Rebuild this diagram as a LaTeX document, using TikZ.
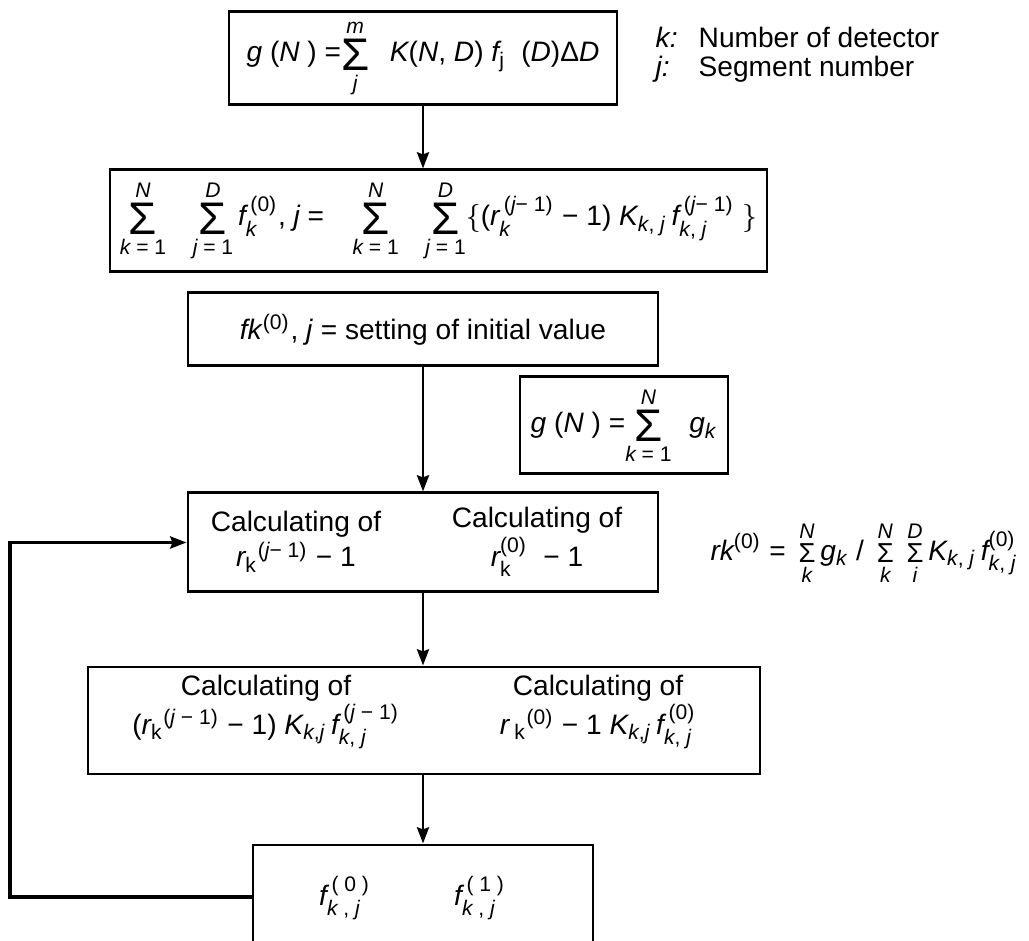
\documentclass[tikz,border=0pt]{standalone}
\usepackage{amsmath}
\usepackage{fontspec}
\setmainfont{Liberation Sans}
\usetikzlibrary{arrows.meta,positioning}
\newcommand{\mv}[1]{\mathit{#1}}
\newcommand{\up}[1]{\text{\upshape #1}}
\newcommand{\bigsum}{\mathop{\vcenter{\hbox{\fontsize{13}{13}\selectfont Σ}}}\limits}
\newcommand{\smallsum}{\mathop{\vcenter{\hbox{\fontsize{7.8}{7.8}\selectfont Σ}}}\limits}
\tikzset{
  flowbox/.style={draw,line width=0.85pt,inner sep=0pt,font=\fontsize{8}{9}\selectfont},
  coltext/.style={align=center,inner sep=0pt,font=\fontsize{8}{10}\selectfont},
  flowarrow/.style={-{Stealth[length=4.6pt,width=3.4pt,inset=0.6pt]},line width=0.85pt},
  looparrow/.style={flowarrow,line width=1.1pt}
}
\begin{document}
\begin{tikzpicture}[x=0.1mm,y=-0.1mm]
  \useasboundingbox (0,0) rectangle (1029,941);
  % measured model
  \node[flowbox,minimum width=38.8mm,minimum height=9.3mm] (topbox) at (423,58.5)
    {$\mv{g}\up{ (}\mv{N}\up{ ) =}\!\bigsum_{\mv{j}}^{\mv{m}}\ \ \mv{K}\up{(}\mv{N}\up{, }\mv{D}\up{)}\ \mv{f}_{\up{j}}\ \ \up{(}\mv{D}\up{)Δ}\mv{D}$};
  \node[coltext,align=left,anchor=west,font=\fontsize{8}{8.3}\selectfont] (legend) at (655,54.5)
    {\makebox[4.3mm][l]{\textit{k:}}Number of detector\\\makebox[4.3mm][l]{\textit{j:}}Segment number};

  \node[flowbox,minimum width=65.7mm,minimum height=10.2mm] (sumbox) at (438.5,221)
    {$\bigsum_{\mv{k}\up{ = 1}}^{\mv{N}}\;\;\,\bigsum_{\mv{j}\up{ = 1}}^{\mv{D}}\mv{f}_{\mv{k}}^{\,\up{(0)}}\up{, }\mv{j}\up{ = }\ \ \bigsum_{\mv{k}\up{ = 1}}^{\mv{N}}\;\;\,\bigsum_{\mv{j}\up{ = 1}}^{\mv{D}}\{\up{(}\mv{r}_{\mv{k}}^{\,\up{(}\mv{j}\up{− 1)}}\up{ − 1) }\mv{K}_{\mv{k}\up{, }\mv{j}}\,\mv{f}_{\mv{k}\up{, }\mv{j}}^{\,\up{(}\mv{j}\up{− 1)}}\ \}$};

  \node[flowbox,minimum width=47mm,minimum height=7.3mm] (initbox) at (423,329.5)
    {\textit{fk}\textsuperscript{(0)}, \textit{j} = setting of initial value};

  \node[flowbox,minimum width=20.8mm,minimum height=9.7mm] (gbox) at (624,425.5)
    {$\mv{g}\up{ (}\mv{N}\up{ ) =}\!\bigsum_{\mv{k}\up{ = 1}}^{\mv{N}}\ \,\mv{g}_{\mv{k}}$};

  % ratio step
  \node[flowbox,minimum width=47mm,minimum height=9.9mm] (ratiobox) at (423,542.5) {};
  \node[coltext] (ratioleft) at (296,542)
    {Calculating of\\$\mv{r}_{\up{k}}{}^{\up{(}\mv{j}\up{− 1)}}\up{ − 1}$};
  \node[coltext] (ratioright) at (537,542)
    {Calculating of\\$\mv{r}_{\up{k}}^{\up{(0)}}\ \ \up{− 1}$};
  \node[coltext] (ratioeq) at (864,553)
    {$\mv{rk}^{\up{(0)}}\up{ = }\smallsum_{\mv{k}}^{\mv{N}}\mv{g}_{\mv{k}}\up{ / }\smallsum_{\mv{k}}^{\mv{N}}\ \smallsum_{\mv{i}}^{\mv{D}}\mv{K}_{\mv{k}\up{, }\mv{j}}\,\mv{f}_{\mv{k}\up{, }\mv{j}}^{\up{(0)}}$};

  % correction step
  \node[flowbox,minimum width=67.2mm,minimum height=10.7mm] (prodbox) at (424,720.5) {};
  \node[coltext] (prodleft) at (266,712)
    {Calculating of\\$\up{(}\mv{r}_{\up{k}}{}^{\up{(}\mv{j}\up{ − 1)}}\up{ − 1) }\mv{K}_{\mv{k}\up{,}\mv{j}}\,\mv{f}_{\mv{k}\up{, }\mv{j}}^{\,\up{(}\mv{j}\up{ − 1)}}$};
  \node[coltext] (prodright) at (598,712)
    {Calculating of\\$\mv{r}\,_{\up{k}}{}^{\up{(0)}}\up{ − 1 }\mv{K}_{\mv{k}\up{,}\mv{j}}\,\mv{f}_{\mv{k}\up{, }\mv{j}}^{\,\up{(0)}}$};

  % new estimate
  \node[flowbox,minimum width=34mm,minimum height=10.4mm] (fbox) at (423,897) {};
  \node[coltext] (fold) at (345,898) {$\mv{f}_{\mv{k}\up{ , }\mv{j}}^{\,\up{( 0 )}}$};
  \node[coltext] (fnew) at (480,898) {$\mv{f}_{\mv{k}\up{ , }\mv{j}}^{\,\up{( 1 )}}$};
  \coordinate (loopleft) at (10,897);

  \draw[flowarrow] (topbox.south) -- (topbox.south |- sumbox.north);
  \draw[flowarrow] (initbox.south) -- (ratiobox.north);
  \draw[flowarrow] (ratiobox.south) -- (ratiobox.south |- prodbox.north);
  \draw[flowarrow] (fbox.north |- prodbox.south) -- (fbox.north);
  \draw[looparrow] (fbox.west) -- (loopleft) |- (ratiobox.west);
\end{tikzpicture}
\end{document}
